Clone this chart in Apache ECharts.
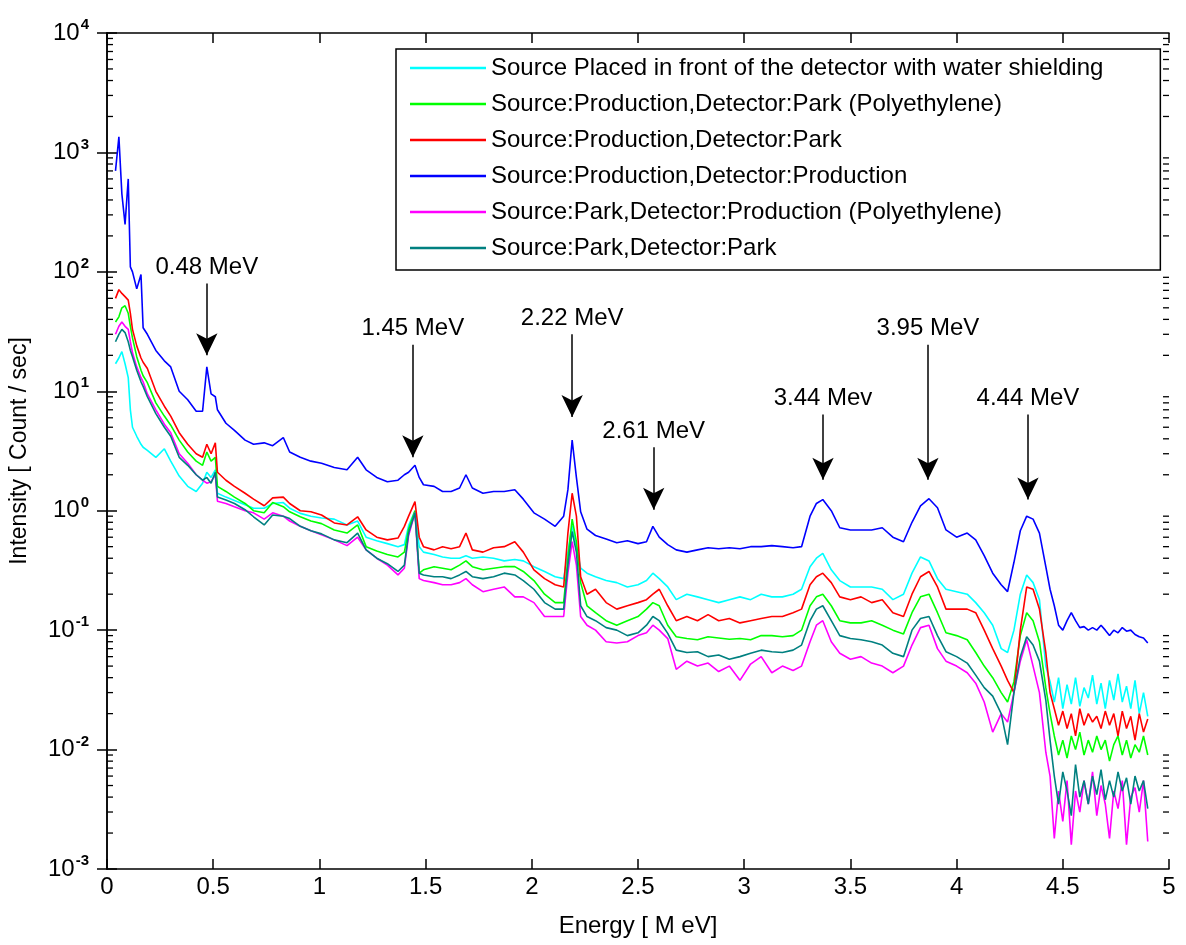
<!DOCTYPE html>
<html>
<head>
<meta charset="utf-8">
<title>Spectrum</title>
<script src="https://cdn.jsdelivr.net/npm/echarts@6/dist/echarts.min.js"></script>
<style>
  html, body { margin: 0; padding: 0; background: #fff; }
  #chart { width: 1186px; height: 945px; }
</style>
</head>
<body>
<div id="chart"></div>
<script>
// energy grid [MeV], shared by all spectra
var energy = [
  0.04, 0.056, 0.07, 0.085, 0.10, 0.11, 0.12, 0.14, 0.16, 0.17,
  0.19, 0.23, 0.27, 0.30, 0.34, 0.38, 0.42, 0.45, 0.47, 0.49,
  0.51, 0.52, 0.56, 0.60, 0.65, 0.69, 0.74, 0.78, 0.83, 0.86,
  0.91, 0.96, 1.01, 1.07, 1.13, 1.18, 1.22, 1.27, 1.32, 1.37,
  1.40, 1.42, 1.45, 1.47, 1.49, 1.54, 1.58, 1.62, 1.66, 1.69,
  1.72, 1.77, 1.82, 1.87, 1.92, 1.96, 2.01, 2.06, 2.11, 2.15,
  2.17, 2.19, 2.21, 2.23, 2.26, 2.30, 2.35, 2.40, 2.45, 2.50,
  2.54, 2.57, 2.60, 2.64, 2.68, 2.73, 2.78, 2.83, 2.88, 2.93,
  2.98, 3.03, 3.08, 3.13, 3.18, 3.23, 3.27, 3.31, 3.34, 3.37,
  3.41, 3.45, 3.50, 3.55, 3.60, 3.65, 3.70, 3.75, 3.79, 3.83,
  3.87, 3.91, 3.95, 4.00, 4.05, 4.09, 4.13, 4.17, 4.21, 4.24,
  4.27, 4.30, 4.33, 4.36, 4.39, 4.42, 4.44, 4.46, 4.48, 4.50,
  4.52, 4.54, 4.56, 4.58, 4.60, 4.62, 4.64, 4.66, 4.68, 4.70,
  4.72, 4.74, 4.76, 4.78, 4.80, 4.82, 4.84, 4.86, 4.88, 4.90
];

// intensities [count/sec]
var waterShield = [
  17, 19, 21.5, 17, 13, 7, 5, 4.2, 3.6, 3.4,
  3.2, 2.8, 3.3, 2.6, 1.95, 1.6, 1.45, 1.7, 2.1, 1.9,
  2.2, 1.4, 1.3, 1.22, 1.12, 1.05, 1.05, 1.15, 1.17, 1.05,
  0.95, 0.9, 0.87, 0.85, 0.76, 0.82, 0.6, 0.56, 0.53, 0.5,
  0.52, 0.75, 1.0, 0.5, 0.45, 0.43, 0.41, 0.4, 0.4, 0.42,
  0.4, 0.41, 0.4, 0.38, 0.39, 0.38, 0.34, 0.31, 0.28, 0.27,
  0.45, 0.75, 0.5, 0.33, 0.3, 0.28, 0.26, 0.25, 0.23, 0.24,
  0.26, 0.3, 0.27, 0.23, 0.18, 0.2, 0.19, 0.18, 0.17, 0.18,
  0.19, 0.18, 0.2, 0.19, 0.19, 0.2, 0.22, 0.34, 0.4, 0.44,
  0.32, 0.26, 0.23, 0.23, 0.23, 0.22, 0.18, 0.2, 0.3, 0.41,
  0.38, 0.27, 0.22, 0.21, 0.2, 0.17, 0.14, 0.11, 0.07, 0.065,
  0.1, 0.2, 0.29, 0.25, 0.18, 0.05, 0.037, 0.025, 0.04, 0.022,
  0.035, 0.024, 0.04, 0.023, 0.033, 0.027, 0.042, 0.024, 0.036, 0.022,
  0.038, 0.026, 0.043, 0.025, 0.034, 0.022, 0.038, 0.02, 0.03, 0.019
];
var prodParkPoly = [
  38, 42, 50, 52, 45, 35, 28, 19.5, 15, 13.5,
  11.8, 8, 6.2, 5.2, 3.9, 3.1, 2.6, 2.4, 3.1, 2.6,
  2.8, 1.6, 1.45, 1.3, 1.15, 1.0, 0.96, 1.17, 1.08, 0.98,
  0.89, 0.82, 0.78, 0.69, 0.65, 0.76, 0.5, 0.46, 0.43, 0.41,
  0.45, 0.7, 1.0, 0.3, 0.32, 0.34, 0.33, 0.32, 0.35, 0.38,
  0.34, 0.32, 0.33, 0.34, 0.34, 0.31, 0.26, 0.2, 0.17, 0.17,
  0.4, 0.85, 0.55, 0.25, 0.16, 0.14, 0.12, 0.11, 0.12, 0.13,
  0.15, 0.17, 0.16, 0.11, 0.088, 0.085, 0.083, 0.088, 0.086, 0.084,
  0.085, 0.083, 0.09, 0.09, 0.088, 0.09, 0.1, 0.16, 0.19, 0.2,
  0.16, 0.12, 0.115, 0.115, 0.12, 0.11, 0.1, 0.093, 0.14, 0.19,
  0.2, 0.14, 0.095, 0.09, 0.083, 0.065, 0.05, 0.04, 0.03, 0.025,
  0.037, 0.09, 0.14, 0.12, 0.08, 0.033, 0.02, 0.013, 0.009, 0.012,
  0.0085, 0.013, 0.01, 0.014, 0.009, 0.012, 0.0095, 0.013, 0.01, 0.012,
  0.008, 0.011, 0.013, 0.009, 0.012, 0.0085, 0.011, 0.0095, 0.013, 0.009
];
var prodPark = [
  60, 71, 66, 62, 58, 45, 33, 24, 19, 17.5,
  15.5, 10, 7.5, 6.2, 4.5, 3.6, 3.0, 2.8, 3.6, 3.0,
  3.7, 2.1, 1.8, 1.6, 1.4, 1.25, 1.1, 1.28, 1.3, 1.15,
  1.0, 0.98, 0.92, 0.79, 0.76, 0.89, 0.69, 0.6, 0.57, 0.59,
  0.74, 0.9, 1.19, 0.6, 0.5, 0.47, 0.5, 0.48, 0.5, 0.65,
  0.47, 0.45, 0.49, 0.5, 0.55, 0.45, 0.32, 0.27, 0.24, 0.23,
  0.65, 1.4, 0.9, 0.28, 0.2, 0.22, 0.17, 0.15, 0.16, 0.17,
  0.18, 0.2, 0.22, 0.16, 0.12, 0.13, 0.12, 0.135, 0.12, 0.125,
  0.115, 0.12, 0.125, 0.13, 0.13, 0.14, 0.15, 0.24, 0.28, 0.3,
  0.25, 0.19, 0.18, 0.19, 0.17, 0.18, 0.14, 0.13, 0.2, 0.28,
  0.31, 0.23, 0.15, 0.15, 0.15, 0.14, 0.1, 0.07, 0.05, 0.038,
  0.03, 0.1, 0.23, 0.22, 0.15, 0.065, 0.03, 0.022, 0.016, 0.021,
  0.015, 0.02, 0.013, 0.022, 0.016, 0.02, 0.017, 0.019, 0.015, 0.021,
  0.016, 0.02, 0.013, 0.021, 0.015, 0.019, 0.012, 0.02, 0.014, 0.018
];
var prodProd = [
  700, 1350, 450, 250, 600, 110, 100, 72, 95, 34,
  30, 22, 18, 16, 10, 8.5, 6.8, 6.8, 16, 9.5,
  9, 7, 5.4, 4.7, 3.9, 3.6, 3.7, 3.5, 4.1, 3.1,
  2.8, 2.6, 2.5, 2.3, 2.2, 2.8, 2.2, 1.9, 1.75, 1.8,
  2.0, 2.1, 2.4, 1.9, 1.65, 1.6, 1.45, 1.45, 1.55, 2.0,
  1.55, 1.4, 1.45, 1.45, 1.5, 1.25, 0.96, 0.85, 0.74, 0.9,
  1.5, 3.9, 1.9, 0.98, 0.7, 0.62, 0.58, 0.54, 0.56, 0.53,
  0.55, 0.74, 0.6, 0.52, 0.47, 0.45, 0.47, 0.49, 0.48, 0.49,
  0.48, 0.5, 0.5, 0.51, 0.5, 0.49, 0.5, 0.9, 1.15, 1.24,
  1.0, 0.72, 0.69, 0.69, 0.69, 0.72, 0.6, 0.55, 0.8, 1.1,
  1.26, 1.06, 0.69, 0.6, 0.65, 0.57, 0.42, 0.3, 0.24, 0.21,
  0.37, 0.68, 0.9, 0.85, 0.65, 0.34, 0.22, 0.16, 0.11, 0.1,
  0.12, 0.14, 0.12, 0.105, 0.107, 0.1, 0.105, 0.1, 0.11, 0.1,
  0.09, 0.1, 0.095, 0.105, 0.098, 0.1, 0.092, 0.088, 0.086, 0.078
];
var parkProdPoly = [
  30, 35, 38, 35, 33, 26, 21, 16, 13, 12,
  9.5, 7, 5.3, 4.5, 3.0, 2.5, 2.0, 1.8, 1.7, 1.75,
  2.0, 1.2, 1.15, 1.08, 1.0, 0.96, 0.85, 0.96, 0.9, 0.82,
  0.74, 0.68, 0.63, 0.57, 0.51, 0.6, 0.47, 0.4, 0.35, 0.29,
  0.33, 0.62, 0.96, 0.27, 0.26, 0.25, 0.24, 0.24, 0.25, 0.27,
  0.24, 0.21, 0.22, 0.23, 0.19, 0.19, 0.17, 0.13, 0.13, 0.13,
  0.3, 0.55, 0.35, 0.13, 0.11, 0.1, 0.08, 0.078, 0.08, 0.09,
  0.095, 0.11, 0.1, 0.085, 0.047, 0.055, 0.05, 0.053, 0.045, 0.05,
  0.038, 0.052, 0.06, 0.044, 0.05, 0.046, 0.05, 0.08, 0.11, 0.12,
  0.08, 0.064, 0.057, 0.06, 0.053, 0.05, 0.044, 0.05, 0.075, 0.105,
  0.11, 0.07, 0.055, 0.05, 0.044, 0.036, 0.025, 0.014, 0.02, 0.017,
  0.03, 0.055, 0.083, 0.05, 0.03, 0.0095, 0.006, 0.0018, 0.0045, 0.0025,
  0.0055, 0.0016, 0.0045, 0.003, 0.0055, 0.0035, 0.0065, 0.0028, 0.005, 0.0035,
  0.0018, 0.0045, 0.0032, 0.0055, 0.0016, 0.004, 0.0048, 0.003, 0.0055, 0.0017
];
var parkPark = [
  26, 30, 33, 31, 26, 22, 19.5, 15, 12, 11,
  9, 6.5, 5, 4.2, 2.8, 2.4, 2.0, 1.8, 1.9, 1.7,
  2.1, 1.3, 1.23, 1.15, 1.02, 0.89, 0.76, 0.92, 0.9, 0.86,
  0.74, 0.68, 0.64, 0.57, 0.54, 0.65, 0.47, 0.4, 0.36, 0.31,
  0.35, 0.65, 0.96, 0.3, 0.29, 0.28, 0.28, 0.27, 0.29, 0.31,
  0.28, 0.27, 0.28, 0.3, 0.29, 0.26, 0.22, 0.17, 0.15, 0.15,
  0.35, 0.67, 0.45, 0.16, 0.13, 0.12, 0.105, 0.1, 0.09, 0.095,
  0.11, 0.13, 0.12, 0.094, 0.068, 0.065, 0.066, 0.06, 0.062, 0.057,
  0.06, 0.064, 0.068, 0.066, 0.065, 0.068, 0.075, 0.12, 0.15, 0.16,
  0.12, 0.09, 0.085, 0.083, 0.08, 0.075, 0.064, 0.06, 0.1, 0.125,
  0.13, 0.09, 0.066, 0.06, 0.053, 0.042, 0.033, 0.028, 0.02, 0.011,
  0.03, 0.06, 0.088, 0.075, 0.055, 0.026, 0.012, 0.006, 0.0035, 0.0065,
  0.0045, 0.0028, 0.0075, 0.004, 0.0055, 0.0035, 0.006, 0.0042, 0.0068, 0.0038,
  0.0055, 0.004, 0.0065, 0.0045, 0.0058, 0.0035, 0.006, 0.0045, 0.0055, 0.0032
];

var seriesNames = [
  'Source Placed in front of the detector with water shielding',
  'Source:Production,Detector:Park (Polyethylene)',
  'Source:Production,Detector:Park',
  'Source:Production,Detector:Production',
  'Source:Park,Detector:Production (Polyethylene)',
  'Source:Park,Detector:Park'
];
var seriesValues = [waterShield, prodParkPoly, prodPark, prodProd, parkProdPoly, parkPark];
var seriesColors = ['#00ffff', '#00ff00', '#ff0000', '#0000ff', '#ff00ff', '#008080'];

// peak annotations: label, energy of arrow, arrow top / tip intensity
var peakLabels = ['0.48 MeV', '1.45 MeV', '2.22 MeV', '2.61 MeV', '3.44 Mev', '3.95 MeV', '4.44 MeV'];
var peakEnergy = [0.47, 1.44, 2.19, 2.574, 3.371, 3.865, 4.336];
var arrowTop = [80, 24.5, 30, 3.4, 6.4, 24.5, 6.4];
var arrowTip = [20, 2.8, 6.1, 1.02, 1.82, 1.82, 1.24];

// log minor ticks
var decades = [-3, -2, -1, 0, 1, 2, 3];
var minorSteps = [2, 3, 4, 5, 6, 7, 8, 9];

var FONT = "'Liberation Sans', Arial, sans-serif";

var minorTickData = [];
decades.forEach(function (d) {
  minorSteps.forEach(function (m) {
    minorTickData.push([0, m * Math.pow(10, d)]);
  });
});

var series = seriesNames.map(function (name, i) {
  return {
    name: name,
    type: 'line',
    symbol: 'none',
    showSymbol: false,
    smooth: false,
    z: 2 + i,
    lineStyle: { color: seriesColors[i], width: 1.6 },
    itemStyle: { color: seriesColors[i] },
    data: energy.map(function (e, j) { return [e, seriesValues[i][j]]; })
  };
});

series.push({
  name: 'peaks',
  type: 'line',
  data: [],
  z: 20,
  markLine: {
    silent: true,
    animation: false,
    symbol: ['none', 'arrow'],
    symbolSize: [16, 22],
    lineStyle: { color: '#000', width: 1.5, type: 'solid' },
    label: {
      show: true,
      position: 'start',
      distance: 4,
      color: '#000',
      fontFamily: FONT,
      fontSize: 24,
      formatter: '{b}'
    },
    data: peakLabels.map(function (lab, i) {
      return [
        { name: lab, coord: [peakEnergy[i], arrowTop[i]] },
        { coord: [peakEnergy[i], arrowTip[i]] }
      ];
    })
  }
});

// minor ticks of the log axis, left and right
series.push({
  name: 'minor',
  type: 'custom',
  silent: true,
  z: 30,
  data: minorTickData,
  renderItem: function (params, api) {
    var l = api.coord([0, api.value(1)]);
    var r = api.coord([5, api.value(1)]);
    return {
      type: 'group',
      children: [
        { type: 'line', shape: { x1: l[0], y1: l[1], x2: l[0] + 6, y2: l[1] }, style: { stroke: '#000', lineWidth: 1.3 } },
        { type: 'line', shape: { x1: r[0] - 6, y1: r[1], x2: r[0], y2: r[1] }, style: { stroke: '#000', lineWidth: 1.3 } }
      ]
    };
  }
});

var axisLine = { show: true, lineStyle: { color: '#000', width: 1.5 } };
var majorTick = { show: true, inside: true, length: 10, lineStyle: { color: '#000', width: 1.5 } };

var option = {
  backgroundColor: '#fff',
  animation: false,
  textStyle: { fontFamily: FONT },
  grid: { left: 107, right: 17, top: 33, bottom: 76, containLabel: false, outerBoundsMode: 'none' },
  legend: {
    data: seriesNames,
    icon: 'rect',
    orient: 'vertical',
    left: 396,
    top: 49,
    padding: [7, 57, 10, 14],
    itemWidth: 76,
    itemHeight: 2.5,
    itemGap: 12,
    borderColor: '#000',
    borderWidth: 1.5,
    borderRadius: 0,
    backgroundColor: '#fff',
    selectedMode: false,
    textStyle: { color: '#000', fontFamily: FONT, fontSize: 24, lineHeight: 24 }
  },
  xAxis: [
    {
      type: 'value',
      position: 'bottom',
      min: 0,
      max: 5,
      interval: 0.5,
      name: 'Energy [ M eV]',
      nameLocation: 'middle',
      nameGap: 45,
      nameTextStyle: { color: '#000', fontFamily: FONT, fontSize: 24 },
      axisLine: axisLine,
      axisTick: majorTick,
      splitLine: { show: false },
      axisLabel: {
        color: '#000', fontFamily: FONT, fontSize: 24, margin: 6,
        formatter: function (v) { return String(v); }
      }
    },
    {
      type: 'value',
      position: 'top',
      min: 0,
      max: 5,
      interval: 0.5,
      axisLine: axisLine,
      axisTick: majorTick,
      splitLine: { show: false },
      axisLabel: { show: false }
    }
  ],
  yAxis: [
    {
      type: 'log',
      logBase: 10,
      position: 'left',
      min: 0.001,
      max: 10000,
      splitNumber: 7,
      name: 'Intensity [ Count / sec]',
      nameLocation: 'middle',
      nameRotate: 90,
      nameGap: 76,
      nameTextStyle: { color: '#000', fontFamily: FONT, fontSize: 23 },
      axisLine: axisLine,
      axisTick: majorTick,
      splitLine: { show: false },
      axisLabel: {
        margin: 18,
        color: '#000',
        formatter: function (v) {
          var p = Math.round(Math.log(v) / Math.LN10);
          return '{b|10}{s|' + p + '}';
        },
        rich: {
          b: { fontFamily: FONT, fontSize: 24, color: '#000' },
          s: { fontFamily: FONT, fontSize: 15, fontWeight: 'bold', color: '#000', padding: [0, 0, 16, 1] }
        }
      }
    },
    {
      type: 'log',
      logBase: 10,
      position: 'right',
      min: 0.001,
      max: 10000,
      splitNumber: 7,
      axisLine: axisLine,
      axisTick: majorTick,
      splitLine: { show: false },
      axisLabel: { show: false }
    }
  ],
  series: series
};

var chart = echarts.init(document.getElementById('chart'));
chart.setOption(option);
</script>
</body>
</html>
